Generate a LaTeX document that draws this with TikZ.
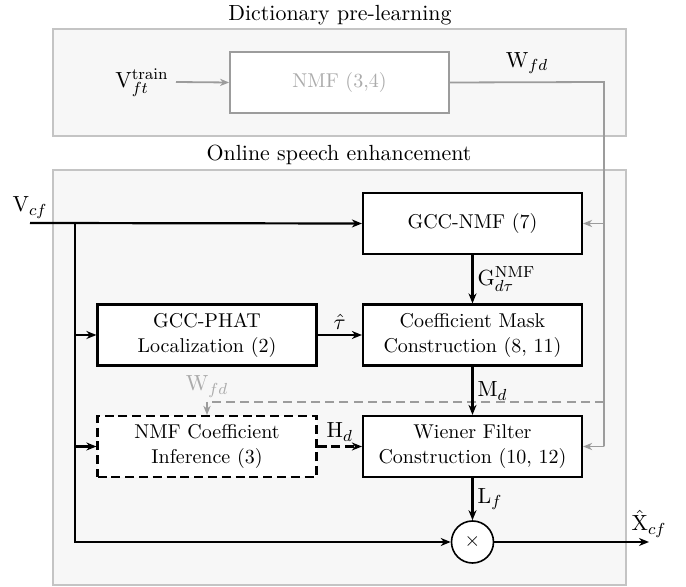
\documentclass[tikz,border=0pt]{standalone}
\usetikzlibrary{arrows.meta}

\definecolor{framefill}{HTML}{F7F7F7}
\definecolor{framedraw}{HTML}{C4C4C4}
\definecolor{flowgray}{HTML}{9C9C9C}
\definecolor{textgray}{HTML}{ABABAB}

\tikzset{
  lbl/.style={font=\fontsize{10.95}{13.5}\selectfont, inner sep=2pt},
  frame/.style={draw=framedraw, fill=framefill, line width=0.9pt},
  block/.style={draw, fill=white, line width=1.1pt, minimum width=109.5pt,
    minimum height=30.5pt, inner sep=0pt, align=center,
    font=\fontsize{10}{12.5}\selectfont},
  grayblock/.style={block, draw=flowgray, line width=0.9pt, text=textgray},
  dashblock/.style={block, dash pattern=on 4.5pt off 2.4pt},
  flow/.style={line width=1.1pt, -{Stealth[length=5pt,width=4pt,inset=1.6pt]}},
  gflow/.style={draw=flowgray, line width=0.9pt,
    -{Stealth[length=4.5pt,width=3.6pt,inset=1.4pt]}},
  gline/.style={draw=flowgray, line width=0.9pt},
  bline/.style={line width=1.1pt},
}

\begin{document}
\begin{tikzpicture}[x=0.5pt, y=-0.5pt]
\useasboundingbox (0,0) rectangle (686,587);

% group frames and their titles
\draw[frame] (53,29) rectangle (626,136);
\draw[frame] (53,170) rectangle (626,585);
\node[lbl] (titleA) at (340,15) {Dictionary pre-learning};
\node[lbl] (titleB) at (339,155) {Online speech enhancement};

% dictionary learning stage
\node[lbl] (vtrain) at (142,83) {V$_{ft}^{\mathrm{train}}$};
\coordinate (vtrainEnd) at (176,82);
\node[grayblock] (nmf) at (339.5,82.5) {NMF (3,4)};
\node[lbl] (wtop) at (527,63) {W$_{fd}$};

% online blocks
\node[block] (gccnmf) at (472.5,223.5) {GCC-NMF (7)};
\node[block] (phat) at (207,335) {GCC-PHAT\\Localization (2)};
\node[block] (mask) at (472.5,335) {Coefficient Mask\\Construction (8, 11)};
\node[dashblock] (infer) at (207,446.5) {NMF Coefficient\\Inference (3)};
\node[block] (wiener) at (472.5,446.5) {Wiener Filter\\Construction (10, 12)};
\node[draw, circle, line width=0.8pt, fill=white, minimum size=21pt, inner sep=0pt,
  font=\fontsize{10}{12}\selectfont] (mult) at (472.5,542) {$\times$};

% routing points
\coordinate (vin) at (30,223);
\coordinate (split) at (75,223);
\coordinate (splitB) at (75,542);
\coordinate (wR) at (604,82);
\coordinate (wG) at (604,223.5);
\coordinate (wD) at (604,402);
\coordinate (wW) at (604,446.5);
\coordinate (wL) at (207,402);
\coordinate (xout) at (649,542);

% dictionary paths (gray)
\draw[gflow] (vtrainEnd) -- (nmf.west);
\draw[gline] (nmf.east) -- (wR) -- (wW);
\draw[gflow] (wW) -- (wiener.east);
\draw[gflow] (wG) -- (gccnmf.east);
\draw[gline, dash pattern=on 4.5pt off 2.6pt] (wD) -- (wL);
\draw[gflow] (wL) -- (infer.north);
\node[lbl, text=textgray, above] (wmid) at (wL) {W$_{fd}$};

% signal paths (black)
\draw[flow] (vin) -- (gccnmf.west);
\node[lbl, above] (vcf) at (vin) {V$_{cf}$};
\draw[flow] (split) -- (splitB) -- (mult.west);
\draw[flow] (split |- phat.west) -- (phat.west);
\draw[flow] (split |- infer.west) -- (infer.west);
\draw[flow] (phat.east) -- node[lbl, above] (tau) {$\hat{\tau}$} (mask.west);
\draw[flow] (gccnmf.south) -- node[lbl, right] (gl) {G$_{d\tau}^{\mathrm{NMF}}$} (mask.north);
\draw[flow] (mask.south) -- node[lbl, right] (ml) {M$_{d}$} (wiener.north);
\draw[flow, dash pattern=on 4.5pt off 2.4pt] (infer.east) -- node[lbl, above] (hl) {H$_{d}$} (wiener.west);
\draw[flow] (wiener.south) -- node[lbl, right] (ll) {L$_{f}$} (mult.north);
\draw[flow] (mult.east) -- (xout);
\node[lbl, above] (xhat) at (xout) {$\hat{\mathrm{X}}_{cf}$};
\end{tikzpicture}
\end{document}
